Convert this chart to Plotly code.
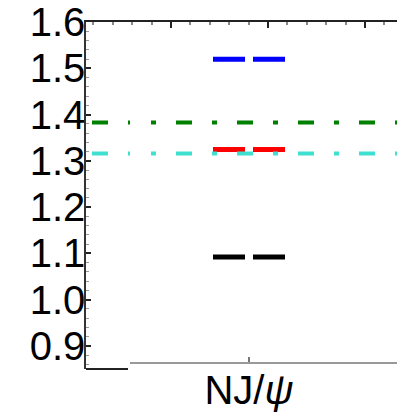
import plotly.graph_objects as go

# ---- data ----
category = ["NJ/<i>ψ</i>"]
blue_vals = [1.52]
red_vals = [1.325]
black_vals = [1.092]
green_ref = 1.383
cyan_ref = 1.316
y_ticks = [0.9, 1.0, 1.1, 1.2, 1.3, 1.4, 1.5, 1.6]

# ---- style / layout constants ----
W, H = 397, 415
ML, MR, MT, MB = 86, 0, 22, 46
XR = [-1.63, 1.48]
HALF = 0.36
FONT = "Liberation Sans, Arial, sans-serif"

fig = go.Figure()

cat_pos = 0.0
for vals, col in [(blue_vals, "#0000FF"), (red_vals, "#FF0000"), (black_vals, "#000000")]:
    fig.add_trace(go.Scatter(
        x=[cat_pos - HALF, cat_pos + HALF], y=[vals[0], vals[0]],
        mode="lines", line=dict(color=col, width=5, dash="32px,8px"),
        showlegend=False, hoverinfo="skip"))

# reference dash-dot lines (two panels with different phase)
for val, col in [(green_ref, "#008000"), (cyan_ref, "#40E0D0")]:
    fig.add_trace(go.Scatter(
        x=[-1.57, -1.19], y=[val, val], mode="lines",
        line=dict(color=col, width=4, dash="16px,20px,5px,20px"),
        showlegend=False, hoverinfo="skip"))
    fig.add_trace(go.Scatter(
        x=[-0.98, XR[1] + 0.5], y=[val, val], mode="lines",
        line=dict(color=col, width=4, dash="5px,20px,16px,20px"),
        showlegend=False, hoverinfo="skip"))

# invisible trace for the top axis
fig.add_trace(go.Scatter(x=[0], y=[1.2], xaxis="x2", mode="markers",
                         marker=dict(opacity=0), showlegend=False, hoverinfo="skip"))

plot_h = H - MT - MB
plot_w = W - ML - MR

fig.update_layout(
    width=W, height=H,
    margin=dict(l=ML, r=MR, t=MT, b=MB, pad=0),
    paper_bgcolor="white", plot_bgcolor="white",
    font=dict(family=FONT, color="black"),
    xaxis=dict(
        range=XR, anchor="free", position=6 / plot_h,
        showline=False, showgrid=False, zeroline=False,
        tickmode="array", tickvals=[cat_pos], ticktext=category,
        ticks="inside", ticklen=6, tickcolor="#777", tickwidth=1.5,
        tickfont=dict(size=40, family=FONT, color="black"),
    ),
    xaxis2=dict(
        range=XR, overlaying="x", side="top", anchor="y",
        showline=True, linecolor="#222", linewidth=1.5,
        showgrid=False, zeroline=False, showticklabels=False,
        ticks="inside", tick0=0.19, dtick=0.97, ticklen=6, tickcolor="#222", tickwidth=1.5,
        minor=dict(ticks="inside", tick0=0.19, dtick=0.194, ticklen=3,
                   tickcolor="#888", tickwidth=1.5),
    ),
    yaxis=dict(
        range=[0.85, 1.6005], domain=[0, 1],
        showline=True, linecolor="#333", linewidth=1.5,
        showgrid=False, zeroline=False,
        tickmode="array", tickvals=y_ticks, ticktext=[f"{v:.1f}" for v in y_ticks],
        ticks="inside", ticklen=5, tickcolor="#222", tickwidth=1.5,
        ticklabelstandoff=-9,
        minor=dict(ticks="inside", dtick=0.02, tick0=0.9, ticklen=3,
                   tickcolor="#999", tickwidth=1.2),
        tickfont=dict(size=40, family=FONT, color="black"),
    ),
    shapes=[
        dict(type="line", xref="paper", yref="paper", x0=0, x1=(128 - ML) / plot_w,
             y0=0, y1=0, line=dict(color="#222", width=2)),
        dict(type="line", xref="paper", yref="paper", x0=(130 - ML) / plot_w, x1=1,
             y0=6 / plot_h, y1=6 / plot_h, line=dict(color="#999", width=2)),
    ],
)

fig.write_html("out.html")
